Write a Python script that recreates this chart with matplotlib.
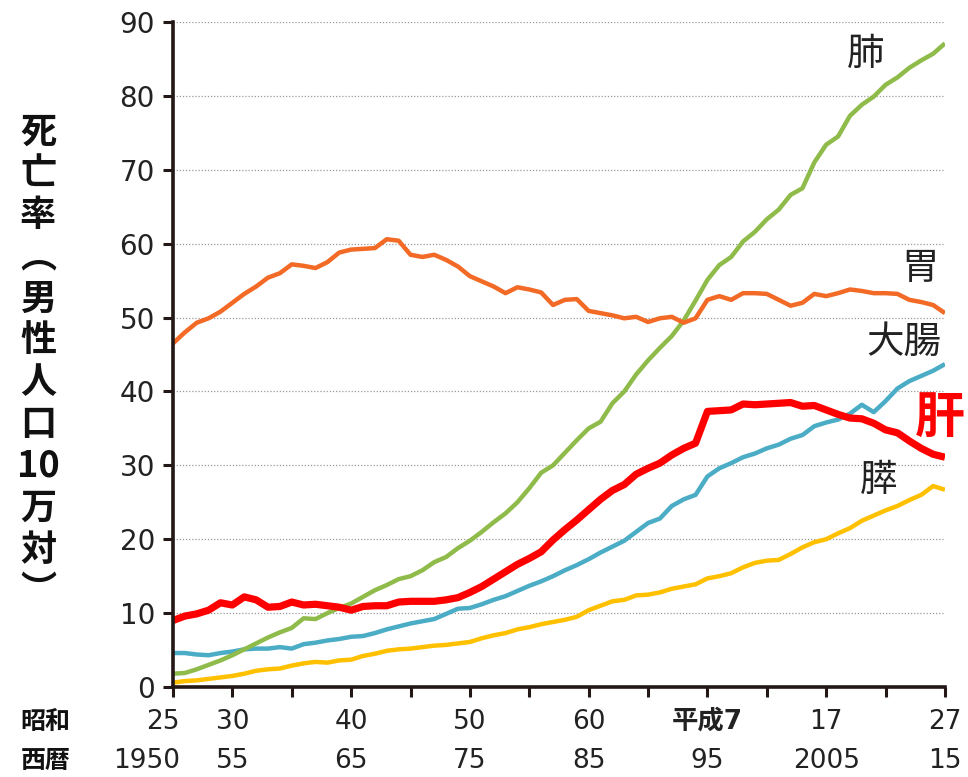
import matplotlib
matplotlib.use('Agg')
import matplotlib.pyplot as plt
import matplotlib.transforms as mtransforms

plt.rcParams['font.family'] = ['DejaVu Sans', 'Noto Sans CJK JP']

# ----------- データ (男性, 人口10万対) -----------
years = list(range(1950, 2016))

stomach = [46.5, 48.0, 49.3, 49.9, 50.8, 52.0, 53.2, 54.2, 55.4, 56.0,
           57.2, 57.0, 56.7, 57.5, 58.8, 59.2, 59.3, 59.4, 60.6, 60.4,
           58.5, 58.2, 58.5, 57.8, 56.9, 55.6, 54.9, 54.2, 53.3, 54.1,
           53.8, 53.4, 51.7, 52.4, 52.5, 50.9, 50.6, 50.3, 49.9, 50.1,
           49.4, 49.9, 50.1, 49.3, 49.9, 52.4, 52.9, 52.4, 53.3, 53.3,
           53.2, 52.4, 51.6, 52.0, 53.2, 52.9, 53.3, 53.8, 53.6, 53.3,
           53.3, 53.2, 52.4, 52.1, 51.7, 50.6]

lung = [1.8, 1.9, 2.4, 3.0, 3.6, 4.3, 5.1, 5.9, 6.7, 7.4,
        8.0, 9.3, 9.2, 10.0, 10.7, 11.3, 12.2, 13.1, 13.8, 14.6,
        15.0, 15.8, 16.9, 17.6, 18.8, 19.8, 21.0, 22.3, 23.5, 25.0,
        26.9, 29.0, 30.0, 31.7, 33.4, 35.0, 35.9, 38.4, 40.0, 42.3,
        44.2, 45.9, 47.5, 49.6, 52.3, 55.1, 57.1, 58.2, 60.3, 61.6,
        63.3, 64.6, 66.6, 67.5, 71.0, 73.4, 74.5, 77.3, 78.8, 79.9,
        81.5, 82.5, 83.8, 84.8, 85.7, 87.1]

colon = [4.6, 4.6, 4.4, 4.3, 4.6, 4.8, 5.1, 5.2, 5.2, 5.4,
         5.2, 5.8, 6.0, 6.3, 6.5, 6.8, 6.9, 7.3, 7.8, 8.2,
         8.6, 8.9, 9.2, 9.9, 10.6, 10.7, 11.2, 11.8, 12.3, 13.0,
         13.7, 14.3, 15.0, 15.8, 16.5, 17.3, 18.2, 19.0, 19.8, 21.0,
         22.2, 22.8, 24.5, 25.4, 26.0, 28.5, 29.6, 30.3, 31.1, 31.6,
         32.3, 32.8, 33.6, 34.1, 35.3, 35.8, 36.2, 37.0, 38.2, 37.2,
         38.7, 40.4, 41.4, 42.1, 42.8, 43.7]

liver = [9.0, 9.6, 9.9, 10.4, 11.4, 11.1, 12.2, 11.8, 10.8, 10.9,
         11.5, 11.1, 11.2, 11.0, 10.8, 10.4, 10.9, 11.0, 11.0, 11.5,
         11.6, 11.6, 11.6, 11.8, 12.1, 12.8, 13.6, 14.6, 15.6, 16.6,
         17.4, 18.3, 19.9, 21.3, 22.6, 24.0, 25.4, 26.6, 27.4, 28.8,
         29.6, 30.3, 31.4, 32.3, 33.0, 37.3, 37.4, 37.5, 38.3, 38.2,
         38.3, 38.4, 38.5, 38.0, 38.1, 37.5, 36.9, 36.4, 36.3, 35.7,
         34.8, 34.4, 33.3, 32.3, 31.5, 31.1]

pancreas = [0.6, 0.8, 0.9, 1.1, 1.3, 1.5, 1.8, 2.2, 2.4, 2.5,
            2.9, 3.2, 3.4, 3.3, 3.6, 3.7, 4.2, 4.5, 4.9, 5.1,
            5.2, 5.4, 5.6, 5.7, 5.9, 6.1, 6.6, 7.0, 7.3, 7.8,
            8.1, 8.5, 8.8, 9.1, 9.5, 10.4, 11.0, 11.6, 11.8, 12.4,
            12.5, 12.8, 13.3, 13.6, 13.9, 14.7, 15.0, 15.4, 16.2, 16.8,
            17.1, 17.2, 18.0, 18.9, 19.6, 20.0, 20.8, 21.5, 22.5, 23.2,
            23.9, 24.5, 25.3, 26.0, 27.2, 26.7]

# 下の目盛り: (西暦位置, 昭和/平成, 西暦)
tick_years = [1950, 1955, 1965, 1975, 1985, 1995, 2005, 2015]
era_labels = ['25', '30', '40', '50', '60', '平成7', '17', '27']
ad_labels = ['1950', '55', '65', '75', '85', '95', '2005', '15']

# ----------- 描画 -----------
fig = plt.figure(figsize=(9.68, 7.77), dpi=100)
ax = fig.add_axes([0.1787, 0.1158, 0.7975, 0.8559])

dark = '#231815'
ax.grid(axis='y', color='#9a9a9a', linestyle=(0, (1, 1.5)), linewidth=0.9)
ax.set_axisbelow(True)

ax.plot(years, pancreas, color='#ffc000', lw=3.2, solid_capstyle='butt')
ax.plot(years, colon, color='#4bacc6', lw=3.2, solid_capstyle='butt')
ax.plot(years, lung, color='#8fbb4a', lw=3.2, solid_capstyle='butt')
ax.plot(years, stomach, color='#f26a25', lw=3.2, solid_capstyle='butt')
ax.plot(years, liver, color='#ff0000', lw=5.2, solid_capstyle='butt')

ax.set_xlim(1950, 2015)
ax.set_ylim(0, 90)
ax.set_yticks(range(0, 91, 10))
ax.set_xticks(range(1950, 2016, 5))
ax.set_xticklabels([])
ax.tick_params(axis='y', length=7, width=2.2, color=dark, labelsize=20,
               labelcolor='#222222', pad=6)
ax.tick_params(axis='x', length=7, width=2.2, color=dark)
for s in ['top', 'right']:
    ax.spines[s].set_visible(False)
for s in ['left', 'bottom']:
    ax.spines[s].set_color(dark)
    ax.spines[s].set_linewidth(2.6)
ax.spines['left'].set_zorder(5)
ax.spines['bottom'].set_zorder(5)

# 系列ラベル
cjk = ['Noto Sans CJK JP']
ax.text(2008.3, 85.6, '肺', fontsize=27, family=cjk, color='#222222', ha='center', va='center')
ax.text(2012.9, 56.7, '胃', fontsize=27, family=cjk, color='#222222', ha='center', va='center')
ax.text(2011.5, 46.7, '大腸', fontsize=27, family=cjk, color='#222222', ha='center', va='center')
ax.text(2014.6, 36.3, '肝', fontsize=36, family=cjk, color='#ff0000', fontweight='bold',
        ha='center', va='center', clip_on=False)
ax.text(2009.4, 28.0, '膵', fontsize=27, family=cjk, color='#222222', ha='center', va='center')

# 年の目盛りラベル
trans = mtransforms.blended_transform_factory(ax.transData, fig.transFigure)
for i, yr in enumerate(tick_years):
    if i == 0:
        x, ha = yr + 0.6, 'right'
    else:
        x, ha = yr, 'center'
    w = 'bold' if era_labels[i].startswith('平成') else 'normal'
    ax.text(x, 0.071, era_labels[i], transform=trans, ha=ha, va='center',
            fontsize=19, fontweight=w, color='#222222')
    ax.text(x, 0.021, ad_labels[i], transform=trans, ha=ha, va='center',
            fontsize=19, color='#222222')
fig.text(0.047, 0.071, '昭和', ha='center', va='center', fontsize=18,
         fontweight='bold', family=cjk, color='#111111')
fig.text(0.047, 0.021, '西暦', ha='center', va='center', fontsize=18,
         fontweight='bold', family=cjk, color='#111111')

# 縦書きの軸ラベル
ylabel_chars = ['死', '亡', '率', '︵', '男', '性', '人', '口', '10', '万', '対', '︶']
y0, step = 777 - 132, 41.8
for i, ch in enumerate(ylabel_chars):
    fig.text(38 / 968, (y0 - i * step) / 777, ch, ha='center', va='center',
             fontsize=26, fontweight='bold', family=['Noto Sans CJK JP', 'DejaVu Sans'],
             color='#111111')

fig.savefig('out.png', dpi=100)
